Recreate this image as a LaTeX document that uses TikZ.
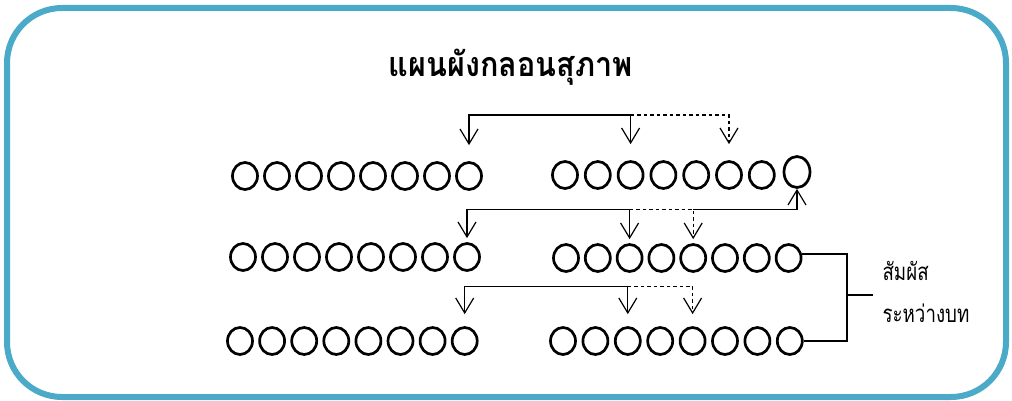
\documentclass[tikz,border=0pt]{standalone}
\usepackage{fontspec}
\newfontfamily\thaifont[Script=Thai]{Loma}
\usetikzlibrary{arrows.meta,shapes.geometric}
\definecolor{framecol}{RGB}{74,170,200}

\tikzset{
  syl/.style={ellipse,draw,line width=2.7pt,minimum width=25pt,minimum height=27pt,inner sep=0pt},
  link/.style={line width=1.3pt},
  rhyme/.style={link,-{Straight Barb[length=15pt,width=18pt,line width=1.2pt]}},
  maybe/.style={dash pattern=on 3.5pt off 3pt},
}

\begin{document}
\begin{tikzpicture}[x=1pt,y=-1pt]
  \useasboundingbox (0,0) rectangle (1012,401);
  \draw[framecol,line width=6pt,rounded corners=55pt] (7,8) rectangle (1006,397);

  \node[anchor=base] (title) at (511,77) {\thaifont\bfseries\fontsize{34}{40}\selectfont\scalebox{0.9}[1]{แผนผังกลอนสุภาพ}};

  % syllables
  \foreach \i in {1,...,8} {
    \node[syl] (r1l\i) at ({245+32*(\i-1)},176) {};
    \node[syl] (r2l\i) at ({243+32*(\i-1)},257) {};
    \node[syl] (r3l\i) at ({240+32.1*(\i-1)},341) {};
    \node[syl] (r2r\i) at ({566+31.8*(\i-1)},258) {};
    \node[syl] (r3r\i) at ({563+32.4*(\i-1)},341) {};
  }
  \foreach \i in {1,...,7} {
    \node[syl] (r1r\i) at ({565+32.8*(\i-1)},175) {};
  }
  \node[syl,minimum width=26pt,minimum height=31pt] (r1r8) at (797,172) {};

  % rhymes
  \draw[rhyme] ([yshift=45pt]r1r3.north) -- ([yshift=16pt]r1r3.north);
  \draw[rhyme] ([yshift=45pt]r1r3.north) -| ([yshift=16pt]r1l8.north);
  \draw[rhyme,maybe] ([yshift=45pt]r1r3.north) -| ([yshift=16pt]r1r6.north);

  \draw[rhyme] ([yshift=34pt]r2r3.north) -- ([yshift=4pt]r2r3.north);
  \draw[rhyme] ([yshift=34pt]r2r3.north) -| ([yshift=4pt]r2l8.north);
  \draw[rhyme,maybe] ([yshift=34pt]r2r3.north) -| ([yshift=4pt]r2r5.north);
  \draw[rhyme] ([yshift=34pt]r2r5.north) -| (r1r8.south);

  \draw[rhyme] ([yshift=40pt]r3r3.north) -- ([yshift=12pt]r3r3.north);
  \draw[rhyme] ([yshift=40pt]r3r3.north) -| ([yshift=12pt]r3l8.north);
  \draw[rhyme,maybe] ([yshift=40pt]r3r3.north) -| ([yshift=12pt]r3r5.north);

  % between stanzas
  \coordinate (brk) at (847,295);
  \coordinate (tick) at (873,295);
  \draw[line width=2.2pt] ([yshift=4pt]r2r8.east) -| (brk) |- (r3r8.east);
  \draw[line width=2.2pt] (brk) -- (tick);
  \node[anchor=base west] (lab1) at (879,280) {\thaifont\fontsize{24}{28}\selectfont\scalebox{0.78}[1]{สัมผัส}};
  \node[anchor=base west] (lab2) at (879,322) {\thaifont\fontsize{24}{28}\selectfont\scalebox{0.78}[1]{ระหว่างบท}};
\end{tikzpicture}
\end{document}
